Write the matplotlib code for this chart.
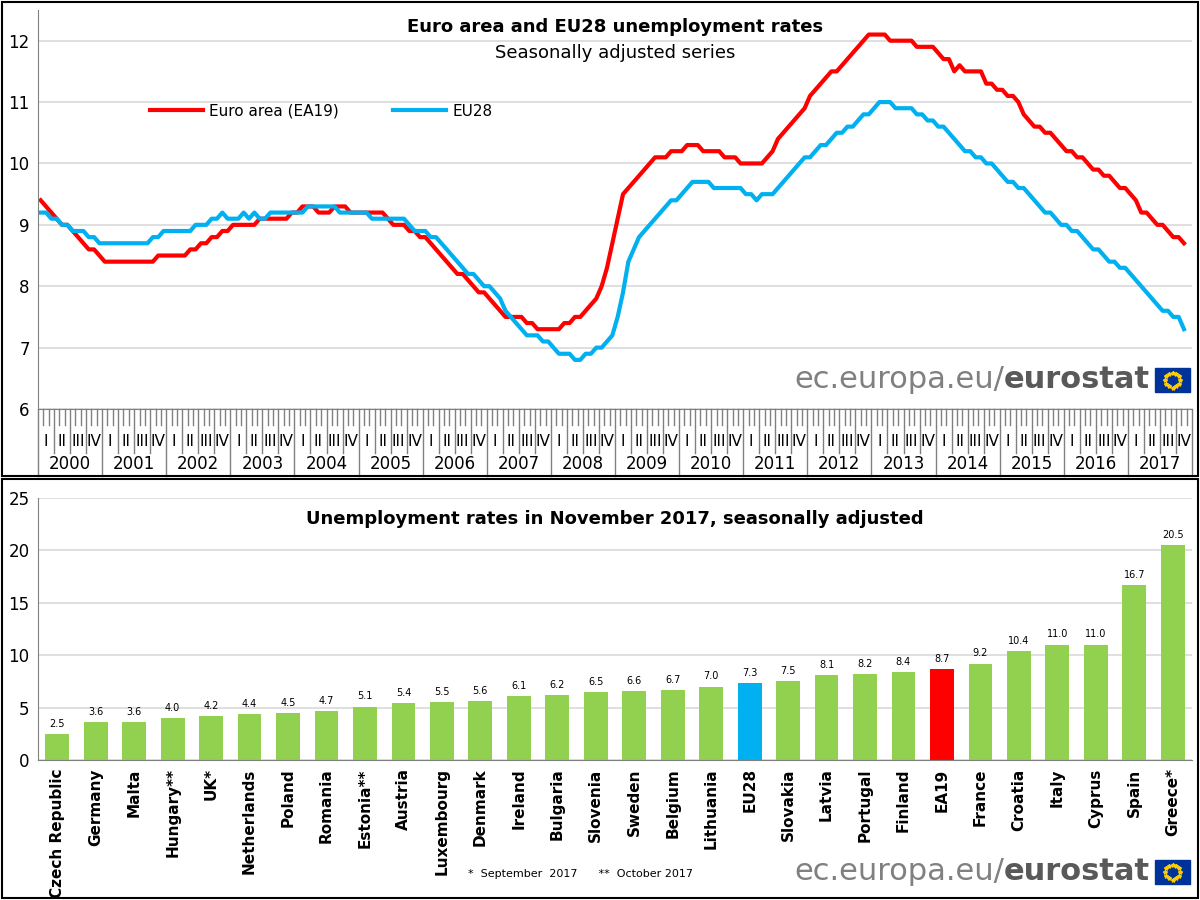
import numpy as np
import matplotlib.pyplot as plt
from matplotlib.lines import Line2D
from matplotlib.patches import Rectangle

# monthly rates Jan 2000 - Nov 2017
ea19 = [9.4, 9.3, 9.2, 9.1, 9.0, 9.0, 8.9, 8.8, 8.7, 8.6, 8.6, 8.5,
        8.4, 8.4, 8.4, 8.4, 8.4, 8.4, 8.4, 8.4, 8.4, 8.4, 8.5, 8.5,
        8.5, 8.5, 8.5, 8.5, 8.6, 8.6, 8.7, 8.7, 8.8, 8.8, 8.9, 8.9,
        9.0, 9.0, 9.0, 9.0, 9.0, 9.1, 9.1, 9.1, 9.1, 9.1, 9.1, 9.2,
        9.2, 9.3, 9.3, 9.3, 9.2, 9.2, 9.2, 9.3, 9.3, 9.3, 9.2, 9.2,
        9.2, 9.2, 9.2, 9.2, 9.2, 9.1, 9.0, 9.0, 9.0, 8.9, 8.9, 8.8,
        8.8, 8.7, 8.6, 8.5, 8.4, 8.3, 8.2, 8.2, 8.1, 8.0, 7.9, 7.9,
        7.8, 7.7, 7.6, 7.5, 7.5, 7.5, 7.5, 7.4, 7.4, 7.3, 7.3, 7.3,
        7.3, 7.3, 7.4, 7.4, 7.5, 7.5, 7.6, 7.7, 7.8, 8.0, 8.3, 8.7,
        9.1, 9.5, 9.6, 9.7, 9.8, 9.9, 10.0, 10.1, 10.1, 10.1, 10.2, 10.2,
        10.2, 10.3, 10.3, 10.3, 10.2, 10.2, 10.2, 10.2, 10.1, 10.1, 10.1, 10.0,
        10.0, 10.0, 10.0, 10.0, 10.1, 10.2, 10.4, 10.5, 10.6, 10.7, 10.8, 10.9,
        11.1, 11.2, 11.3, 11.4, 11.5, 11.5, 11.6, 11.7, 11.8, 11.9, 12.0, 12.1,
        12.1, 12.1, 12.1, 12.0, 12.0, 12.0, 12.0, 12.0, 11.9, 11.9, 11.9, 11.9,
        11.8, 11.7, 11.7, 11.5, 11.6, 11.5, 11.5, 11.5, 11.5, 11.3, 11.3, 11.2,
        11.2, 11.1, 11.1, 11.0, 10.8, 10.7, 10.6, 10.6, 10.5, 10.5, 10.4, 10.3,
        10.2, 10.2, 10.1, 10.1, 10.0, 9.9, 9.9, 9.8, 9.8, 9.7, 9.6, 9.6,
        9.5, 9.4, 9.2, 9.2, 9.1, 9.0, 9.0, 8.9, 8.8, 8.8, 8.7]
eu28 = [9.2, 9.2, 9.1, 9.1, 9.0, 9.0, 8.9, 8.9, 8.9, 8.8, 8.8, 8.7,
        8.7, 8.7, 8.7, 8.7, 8.7, 8.7, 8.7, 8.7, 8.7, 8.8, 8.8, 8.9,
        8.9, 8.9, 8.9, 8.9, 8.9, 9.0, 9.0, 9.0, 9.1, 9.1, 9.2, 9.1,
        9.1, 9.1, 9.2, 9.1, 9.2, 9.1, 9.1, 9.2, 9.2, 9.2, 9.2, 9.2,
        9.2, 9.2, 9.3, 9.3, 9.3, 9.3, 9.3, 9.3, 9.2, 9.2, 9.2, 9.2,
        9.2, 9.2, 9.1, 9.1, 9.1, 9.1, 9.1, 9.1, 9.1, 9.0, 8.9, 8.9,
        8.9, 8.8, 8.8, 8.7, 8.6, 8.5, 8.4, 8.3, 8.2, 8.2, 8.1, 8.0,
        8.0, 7.9, 7.8, 7.6, 7.5, 7.4, 7.3, 7.2, 7.2, 7.2, 7.1, 7.1,
        7.0, 6.9, 6.9, 6.9, 6.8, 6.8, 6.9, 6.9, 7.0, 7.0, 7.1, 7.2,
        7.5, 7.9, 8.4, 8.6, 8.8, 8.9, 9.0, 9.1, 9.2, 9.3, 9.4, 9.4,
        9.5, 9.6, 9.7, 9.7, 9.7, 9.7, 9.6, 9.6, 9.6, 9.6, 9.6, 9.6,
        9.5, 9.5, 9.4, 9.5, 9.5, 9.5, 9.6, 9.7, 9.8, 9.9, 10.0, 10.1,
        10.1, 10.2, 10.3, 10.3, 10.4, 10.5, 10.5, 10.6, 10.6, 10.7, 10.8, 10.8,
        10.9, 11.0, 11.0, 11.0, 10.9, 10.9, 10.9, 10.9, 10.8, 10.8, 10.7, 10.7,
        10.6, 10.6, 10.5, 10.4, 10.3, 10.2, 10.2, 10.1, 10.1, 10.0, 10.0, 9.9,
        9.8, 9.7, 9.7, 9.6, 9.6, 9.5, 9.4, 9.3, 9.2, 9.2, 9.1, 9.0,
        9.0, 8.9, 8.9, 8.8, 8.7, 8.6, 8.6, 8.5, 8.4, 8.4, 8.3, 8.3,
        8.2, 8.1, 8.0, 7.9, 7.8, 7.7, 7.6, 7.6, 7.5, 7.5, 7.3]
years = list(range(2000, 2018))
quarters = ["I", "II", "III", "IV"]

countries = ["Czech Republic", "Germany", "Malta", "Hungary**", "UK*", "Netherlands",
             "Poland", "Romania", "Estonia**", "Austria", "Luxembourg", "Denmark",
             "Ireland", "Bulgaria", "Slovenia", "Sweden", "Belgium", "Lithuania",
             "EU28", "Slovakia", "Latvia", "Portugal", "Finland", "EA19", "France",
             "Croatia", "Italy", "Cyprus", "Spain", "Greece*"]
rates = [2.5, 3.6, 3.6, 4.0, 4.2, 4.4, 4.5, 4.7, 5.1, 5.4, 5.5, 5.6, 6.1, 6.2,
         6.5, 6.6, 6.7, 7.0, 7.3, 7.5, 8.1, 8.2, 8.4, 8.7, 9.2, 10.4, 11.0,
         11.0, 16.7, 20.5]

RED = "#FF0000"
BLUE = "#00B0F0"
GREEN = "#92D050"

fig = plt.figure(figsize=(12, 9), dpi=100)
W, H = 1200, 900

def box(x0, y0, x1, y1):
    return [x0 / W, 1 - y1 / H, (x1 - x0) / W, (y1 - y0) / H]

# panel frames
for y0, y1 in [(2, 476), (479, 898)]:
    fig.patches.append(Rectangle((2 / W, 1 - y1 / H), 1196 / W, (y1 - y0) / H,
                                 transform=fig.transFigure, fill=False,
                                 edgecolor="black", lw=1.5))

# ---- top line chart
ax = fig.add_axes(box(38, 10, 1192, 409))
x = np.arange(len(ea19)) + 0.5
ax.plot(x, ea19, color=RED, lw=3)
ax.plot(x, eu28, color=BLUE, lw=3)
ax.set_xlim(0, 216)
ax.set_ylim(6, 12.5)
ax.set_yticks(range(6, 13))
ax.tick_params(axis="y", length=0, labelsize=12, pad=6)
ax.set_xticks([])
ax.grid(axis="y", color="#d9d9d9", lw=1.2)
ax.set_axisbelow(True)
for s in ["top", "right"]:
    ax.spines[s].set_visible(False)
ax.spines["left"].set_color("#808080")
ax.spines["bottom"].set_color("#808080")
ax.text(0.5, 0.98, "Euro area and EU28 unemployment rates", transform=ax.transAxes,
        ha="center", va="top", fontsize=13, fontweight="bold")
ax.text(0.5, 0.915, "Seasonally adjusted series", transform=ax.transAxes,
        ha="center", va="top", fontsize=13)
handles = [Line2D([], [], color=RED, lw=3), Line2D([], [], color=BLUE, lw=3)]
ax.legend(handles, ["Euro area (EA19)", "EU28"], ncol=2, frameon=False,
          loc="upper left", bbox_to_anchor=(0.085, 0.8), fontsize=11,
          handlelength=3.5, handletextpad=0.4, columnspacing=3.5)

# custom time axis below the plot (pixel offsets converted to axes fraction)
ph = 399.0
def fy(py):
    return -(py - 409) / ph
tr = ax.get_xaxis_transform()
for m in range(217):
    if m % 12 == 0:
        y_end = 476
    elif m % 3 == 0:
        y_end = 453
    else:
        y_end = 425
    ax.plot([m, m], [0, fy(y_end)], transform=tr, color="#808080", lw=1, clip_on=False)
for yi, yr in enumerate(years):
    for qi, q in enumerate(quarters):
        ax.text(yi * 12 + qi * 3 + 1.5, fy(441), q, transform=tr, ha="center",
                va="center", fontsize=11)
    ax.text(yi * 12 + 6, fy(464), str(yr), transform=tr, ha="center",
            va="center", fontsize=12)

# ---- bottom bar chart
bx = fig.add_axes(box(38, 498, 1192, 760))
colors = [BLUE if c == "EU28" else RED if c == "EA19" else GREEN for c in countries]
pos = np.arange(len(countries))
bx.bar(pos, rates, width=0.62, color=colors)
for p, v in zip(pos, rates):
    bx.text(p, v + 0.5, f"{v:.1f}", ha="center", va="bottom", fontsize=7)
bx.set_xlim(-0.5, len(countries) - 0.5)
bx.set_ylim(0, 25)
bx.set_yticks(range(0, 26, 5))
bx.tick_params(axis="y", length=0, labelsize=12, pad=6)
bx.set_xticks(pos)
bx.set_xticklabels(countries, rotation=90, fontsize=11, fontweight="bold")
bx.tick_params(axis="x", length=0, pad=6)
bx.grid(axis="y", color="#d9d9d9", lw=1.2)
bx.set_axisbelow(True)
for s in ["top", "right"]:
    bx.spines[s].set_visible(False)
bx.spines["left"].set_color("#808080")
bx.spines["bottom"].set_color("#808080")
bx.text(0.5, 0.92, "Unemployment rates in November 2017, seasonally adjusted",
        transform=bx.transAxes, ha="center", va="center", fontsize=13, fontweight="bold")
fig.text(468 / W, 1 - 874 / H, "*  September  2017      **  October 2017",
         fontsize=8, va="center")

# eurostat logos
fig.canvas.draw()
renderer = fig.canvas.get_renderer()

def logo(py):
    t2 = fig.text(1150 / W, 1 - py / H, "eurostat", ha="right", va="center",
                  fontsize=22, color="#595959", fontweight="bold")
    w = t2.get_window_extent(renderer).width
    fig.text((1150 - w) / W, 1 - py / H, "ec.europa.eu/", ha="right", va="center",
             fontsize=22, color="#808080")
    fig.patches.append(Rectangle((1155 / W, 1 - (py + 12) / H), 35 / W, 24 / H,
                                 transform=fig.transFigure, color="#003399"))
    ang = np.linspace(0, 2 * np.pi, 13)[:-1]
    fig.lines.append(Line2D((1172.5 + 7.5 * np.cos(ang)) / W,
                            1 - (py + 7.5 * np.sin(ang)) / H, transform=fig.transFigure,
                            ls="none", marker="*", ms=3, color="#FFCC00"))

logo(380)
logo(872)

fig.savefig("out.png", dpi=100)
